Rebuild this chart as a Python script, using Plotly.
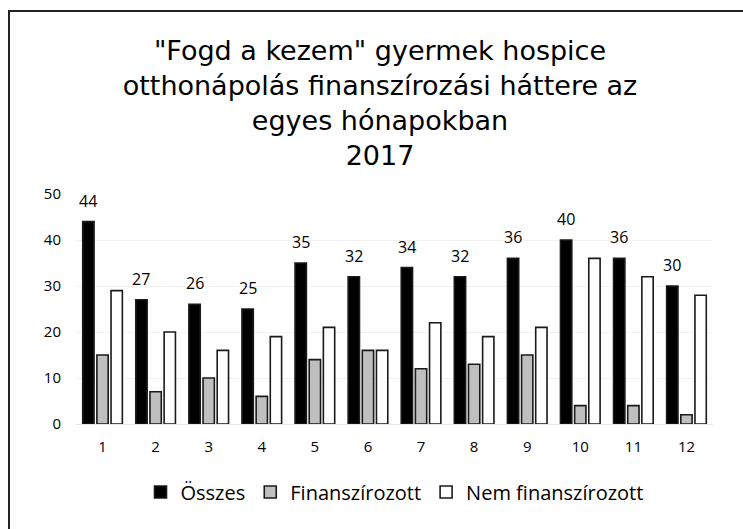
import plotly.graph_objects as go

months = ["1", "2", "3", "4", "5", "6", "7", "8", "9", "10", "11", "12"]
osszes = [44, 27, 26, 25, 35, 32, 34, 32, 36, 40, 36, 30]
finanszirozott = [15, 7, 10, 6, 14, 16, 12, 13, 15, 4, 4, 2]
nem_finanszirozott = [29, 20, 16, 19, 21, 16, 22, 19, 21, 36, 32, 28]
y_ticks = [0, 10, 20, 30, 40, 50]

title_text = ('"Fogd a kezem" gyermek hospice<br>otthonápolás finanszírozási háttere az'
              '<br>egyes hónapokban<br>2017')

W, H = 743, 529
ML, MR, MT, MB = 76, 30, 194, 105

fig = go.Figure()
line = dict(color="#1a1a1a", width=1.6)
fig.add_trace(go.Bar(name="Összes", x=months, y=osszes,
                     marker=dict(color="#000000", line=line)))
fig.add_trace(go.Bar(name="Finanszírozott", x=months, y=finanszirozott,
                     marker=dict(color="#BFBFBF", line=line)))
fig.add_trace(go.Bar(name="Nem finanszírozott", x=months, y=nem_finanszirozott,
                     marker=dict(color="#FFFFFF", line=line)))

# data labels above the "Összes" bars (x given as category index)
plot_w = W - ML - MR
slot = plot_w / len(months) * (1 - 0.2) / 3
for i, v in enumerate(osszes):
    fig.add_annotation(x=i, y=v, text=str(v), showarrow=False,
                       xshift=-slot, yshift=8, yanchor="bottom",
                       font=dict(family="Open Sans", size=16, color="#000000"))

# chart-area border (left/top visible, rest cropped)
plot_h = H - MT - MB
x0 = (9 - ML) / plot_w
y1 = (H - MB - 11) / plot_h
fig.add_shape(type="rect", xref="paper", yref="paper",
              x0=x0, x1=1.3, y0=-0.6, y1=y1,
              line=dict(color="#222222", width=2), fillcolor="rgba(0,0,0,0)")

fig.update_layout(
    width=W, height=H,
    margin=dict(l=ML, r=MR, t=MT, b=MB),
    paper_bgcolor="white", plot_bgcolor="white",
    barmode="group", bargap=0.2, bargroupgap=0.2,
    title=dict(text=title_text, x=380 / W, xanchor="center", xref="container",
               y=1 - 60 / H, yanchor="top", yref="container",
               font=dict(family="DejaVu Sans", size=27, color="#000000")),
    legend=dict(orientation="h", x=0.5, xanchor="center",
                y=-(492 - (H - MB)) / plot_h, yanchor="middle",
                font=dict(family="Open Sans", size=20, color="#000000"),
                itemwidth=30, traceorder="normal"),
    showlegend=True,
)
fig.update_xaxes(showgrid=False, showline=True, linecolor="#E6E6E6", linewidth=1,
                 tickfont=dict(family="Open Sans", size=15, color="#000000"),
                 ticks="", ticklabelstandoff=9)
fig.update_yaxes(range=[0, 50], tickvals=y_ticks, showgrid=True, gridcolor="#F2F2F2",
                 zeroline=False, showline=False,
                 tickfont=dict(family="Open Sans", size=15, color="#000000"),
                 ticks="", ticklabelstandoff=14)

fig.write_html("out.html",
               config={"displayModeBar": False},
               post_script="document.body.style.margin='0';"
                           "document.body.style.overflow='hidden';")
